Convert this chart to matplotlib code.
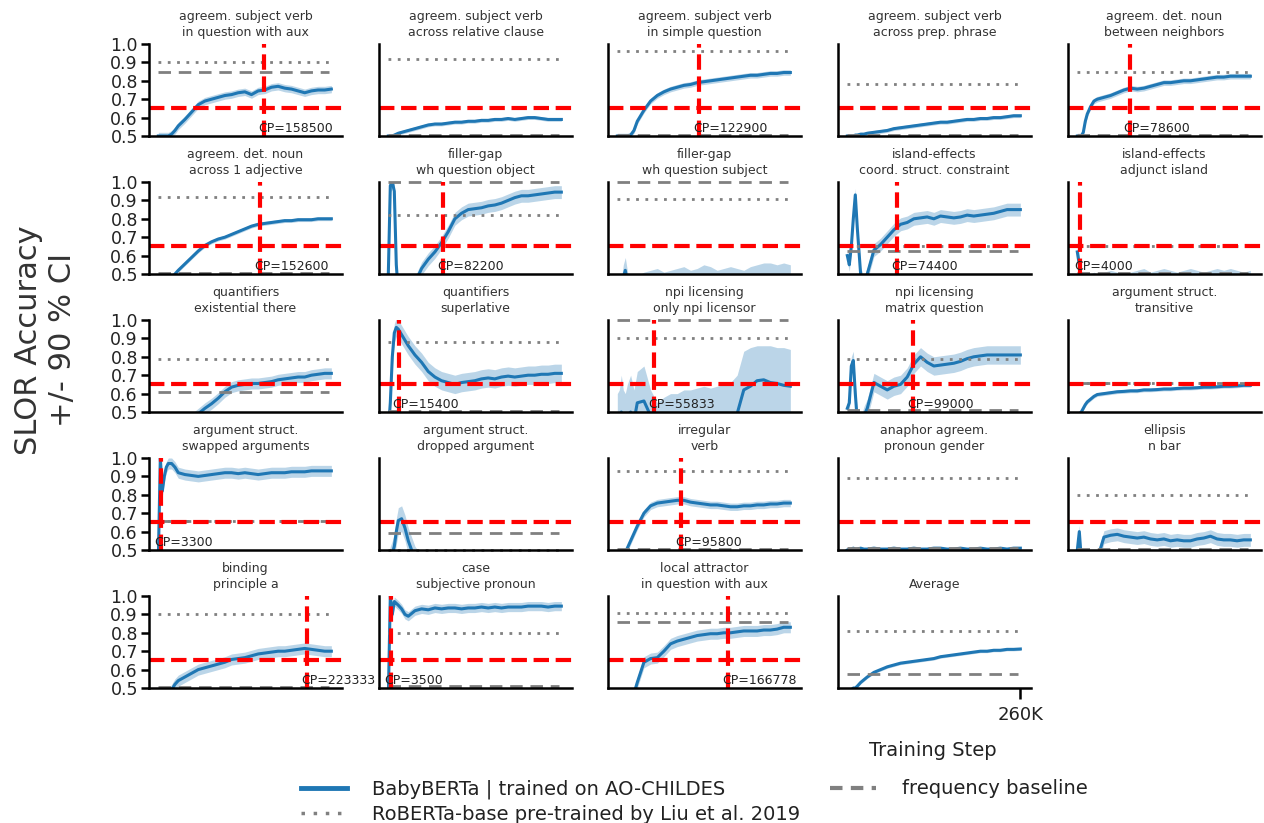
import numpy as np
import matplotlib
matplotlib.use('Agg')
import matplotlib.pyplot as plt
from matplotlib.lines import Line2D

# training steps (in thousands)
steps_k = [0, 3, 6, 9, 12, 15, 20, 25, 30, 40, 50, 60, 70, 80, 90, 100, 110, 120,
           130, 140, 150, 160, 170, 180, 190, 200, 210, 220, 230, 240, 250, 260]

titles = [
    'agreem. subject verb\nin question with aux', 'agreem. subject verb\nacross relative clause',
    'agreem. subject verb\nin simple question', 'agreem. subject verb\nacross prep. phrase',
    'agreem. det. noun\nbetween neighbors', 'agreem. det. noun\nacross 1 adjective',
    'filler-gap\nwh question object', 'filler-gap\nwh question subject',
    'island-effects\ncoord. struct. constraint', 'island-effects\nadjunct island',
    'quantifiers\nexistential there', 'quantifiers\nsuperlative',
    'npi licensing\nonly npi licensor', 'npi licensing\nmatrix question',
    'argument struct.\ntransitive', 'argument struct.\nswapped arguments',
    'argument struct.\ndropped argument', 'irregular\nverb',
    'anaphor agreem.\npronoun gender', 'ellipsis\nn bar',
    'binding\nprinciple a', 'case\nsubjective pronoun',
    'local attractor\nin question with aux', 'Average',
]

#### BabyBERTa accuracy per paradigm
sv_question_aux = [0.50, 0.50, 0.50, 0.50, 0.50, 0.50, 0.51, 0.53, 0.555, 0.59, 0.63, 0.67, 0.69, 0.70, 0.71, 0.72,
                   0.725, 0.735, 0.74, 0.725, 0.745, 0.75, 0.765, 0.77, 0.76, 0.755, 0.745, 0.735, 0.745, 0.75, 0.75, 0.755]
sv_relative_clause = [0.50, 0.50, 0.50, 0.505, 0.51, 0.515, 0.52, 0.525, 0.53, 0.54, 0.55, 0.56, 0.565, 0.565, 0.57, 0.575,
                      0.575, 0.58, 0.58, 0.585, 0.585, 0.59, 0.59, 0.595, 0.59, 0.595, 0.60, 0.60, 0.595, 0.59, 0.59, 0.59]
sv_simple_question = [0.50, 0.50, 0.50, 0.50, 0.50, 0.50, 0.505, 0.53, 0.58, 0.64, 0.69, 0.72, 0.74, 0.755, 0.765, 0.775,
                      0.78, 0.79, 0.795, 0.80, 0.805, 0.81, 0.815, 0.82, 0.825, 0.83, 0.83, 0.835, 0.84, 0.84, 0.845, 0.845]
sv_prep_phrase = [0.50, 0.50, 0.50, 0.50, 0.505, 0.505, 0.51, 0.51, 0.515, 0.52, 0.525, 0.53, 0.54, 0.545, 0.55, 0.555,
                  0.56, 0.565, 0.57, 0.575, 0.575, 0.58, 0.585, 0.59, 0.59, 0.595, 0.595, 0.60, 0.60, 0.605, 0.61, 0.61]
dn_neighbors = [0.50, 0.50, 0.50, 0.52, 0.58, 0.62, 0.66, 0.69, 0.70, 0.71, 0.72, 0.735, 0.75, 0.76, 0.755, 0.76,
                0.77, 0.78, 0.79, 0.79, 0.795, 0.80, 0.80, 0.805, 0.81, 0.815, 0.82, 0.82, 0.825, 0.825, 0.825, 0.825]
dn_adjective = [0.40, 0.40, 0.41, 0.42, 0.43, 0.44, 0.47, 0.50, 0.52, 0.555, 0.59, 0.625, 0.655, 0.675, 0.69, 0.70,
                0.715, 0.73, 0.745, 0.76, 0.77, 0.775, 0.78, 0.785, 0.79, 0.79, 0.795, 0.795, 0.795, 0.80, 0.80, 0.80]
fg_wh_object = [0.50, 0.98, 1.0, 0.95, 0.55, 0.40, 0.35, 0.35, 0.40, 0.45, 0.53, 0.58, 0.62, 0.67, 0.73, 0.80,
                0.83, 0.85, 0.855, 0.86, 0.87, 0.875, 0.885, 0.90, 0.915, 0.925, 0.925, 0.93, 0.935, 0.94, 0.945, 0.945]
fg_wh_subject = [0.30, 0.35, 0.40, 0.48, 0.52, 0.45, 0.35, 0.38, 0.42, 0.44, 0.45, 0.46, 0.44, 0.45, 0.46, 0.47,
                 0.45, 0.46, 0.48, 0.47, 0.45, 0.46, 0.47, 0.46, 0.45, 0.47, 0.48, 0.49, 0.49, 0.48, 0.49, 0.48]
ie_coord = [0.60, 0.55, 0.65, 0.80, 0.93, 0.75, 0.50, 0.45, 0.50, 0.63, 0.66, 0.70, 0.74, 0.77, 0.78, 0.80,
            0.805, 0.81, 0.80, 0.815, 0.81, 0.805, 0.81, 0.82, 0.815, 0.82, 0.825, 0.83, 0.84, 0.85, 0.85, 0.85]
ie_adjunct = [0.62, 0.55, 0.45, 0.40, 0.42, 0.44, 0.45, 0.46, 0.45, 0.46, 0.47, 0.46, 0.45, 0.46, 0.47, 0.48,
              0.46, 0.47, 0.48, 0.47, 0.46, 0.47, 0.48, 0.47, 0.46, 0.47, 0.48, 0.47, 0.48, 0.47, 0.46, 0.47]
q_existential = [0.30, 0.30, 0.31, 0.32, 0.33, 0.34, 0.36, 0.38, 0.40, 0.43, 0.46, 0.49, 0.52, 0.545, 0.575, 0.61,
                 0.635, 0.645, 0.65, 0.655, 0.655, 0.66, 0.665, 0.675, 0.68, 0.685, 0.69, 0.69, 0.70, 0.705, 0.71, 0.71]
q_superlative = [0.40, 0.55, 0.80, 0.93, 0.96, 0.95, 0.92, 0.89, 0.86, 0.81, 0.77, 0.72, 0.69, 0.67, 0.66, 0.65,
                 0.66, 0.665, 0.67, 0.68, 0.685, 0.68, 0.69, 0.695, 0.69, 0.695, 0.70, 0.70, 0.705, 0.705, 0.71, 0.71]
npi_only = [0.40, 0.45, 0.50, 0.45, 0.42, 0.48, 0.50, 0.45, 0.55, 0.56, 0.48, 0.42, 0.44, 0.46, 0.46, 0.47,
            0.48, 0.47, 0.48, 0.47, 0.48, 0.47, 0.48, 0.49, 0.62, 0.64, 0.67, 0.675, 0.66, 0.655, 0.645, 0.64]
npi_only_upper = [0.60, 0.62, 0.70, 0.62, 0.60, 0.65, 0.70, 0.62, 0.72, 0.75, 0.62, 0.55, 0.58, 0.60, 0.60, 0.62,
                  0.62, 0.63, 0.64, 0.63, 0.64, 0.65, 0.66, 0.70, 0.83, 0.85, 0.86, 0.86, 0.86, 0.85, 0.85, 0.84]
npi_matrix = [0.52, 0.55, 0.75, 0.78, 0.60, 0.45, 0.42, 0.48, 0.52, 0.66, 0.64, 0.62, 0.64, 0.65, 0.69, 0.76,
              0.80, 0.77, 0.75, 0.755, 0.76, 0.765, 0.775, 0.79, 0.80, 0.805, 0.81, 0.81, 0.81, 0.81, 0.81, 0.81]
as_transitive = [0.48, 0.49, 0.50, 0.52, 0.54, 0.555, 0.57, 0.585, 0.595, 0.60, 0.605, 0.61, 0.612, 0.615, 0.615, 0.62,
                 0.62, 0.622, 0.625, 0.625, 0.628, 0.63, 0.63, 0.632, 0.635, 0.635, 0.637, 0.64, 0.64, 0.642, 0.645, 0.645]
as_swapped = [0.45, 1.0, 0.82, 0.90, 0.95, 0.97, 0.97, 0.95, 0.92, 0.91, 0.905, 0.90, 0.905, 0.91, 0.915, 0.92,
              0.92, 0.915, 0.92, 0.915, 0.91, 0.915, 0.92, 0.92, 0.92, 0.925, 0.925, 0.925, 0.93, 0.93, 0.93, 0.93]
as_dropped = [0.40, 0.45, 0.48, 0.52, 0.60, 0.66, 0.67, 0.62, 0.55, 0.45, 0.40, 0.38, 0.37, 0.38, 0.37, 0.36,
              0.37, 0.36, 0.35, 0.36, 0.37, 0.36, 0.35, 0.36, 0.35, 0.36, 0.37, 0.36, 0.35, 0.36, 0.35, 0.36]
irregular_verb = [0.45, 0.45, 0.46, 0.47, 0.49, 0.51, 0.55, 0.59, 0.63, 0.70, 0.74, 0.755, 0.76, 0.765, 0.77, 0.77,
                  0.76, 0.755, 0.75, 0.745, 0.745, 0.74, 0.735, 0.735, 0.74, 0.74, 0.745, 0.745, 0.75, 0.75, 0.755, 0.755]
anaphor_gender = [0.50, 0.505, 0.505, 0.51, 0.505, 0.505, 0.51, 0.505, 0.505, 0.51, 0.505, 0.505, 0.51, 0.505, 0.505, 0.51,
                  0.505, 0.505, 0.51, 0.51, 0.505, 0.505, 0.51, 0.505, 0.505, 0.51, 0.505, 0.505, 0.51, 0.505, 0.51, 0.51]
ellipsis_nbar = [0.50, 0.60, 0.45, 0.40, 0.40, 0.40, 0.40, 0.42, 0.45, 0.57, 0.58, 0.585, 0.575, 0.57, 0.565, 0.57,
                 0.56, 0.555, 0.56, 0.55, 0.555, 0.55, 0.55, 0.56, 0.565, 0.575, 0.56, 0.555, 0.555, 0.55, 0.555, 0.555]
binding_a = [0.40, 0.40, 0.41, 0.42, 0.44, 0.46, 0.49, 0.52, 0.54, 0.56, 0.58, 0.60, 0.61, 0.62, 0.63, 0.64,
             0.655, 0.66, 0.665, 0.675, 0.685, 0.69, 0.695, 0.70, 0.70, 0.705, 0.71, 0.715, 0.71, 0.705, 0.70, 0.70]
case_subj = [0.45, 1.0, 0.90, 0.97, 0.96, 0.95, 0.93, 0.90, 0.89, 0.92, 0.93, 0.925, 0.935, 0.93, 0.935, 0.935,
             0.93, 0.935, 0.935, 0.94, 0.935, 0.94, 0.935, 0.94, 0.94, 0.94, 0.945, 0.945, 0.945, 0.94, 0.945, 0.945]
local_attractor = [0.40, 0.40, 0.40, 0.41, 0.42, 0.43, 0.44, 0.47, 0.53, 0.64, 0.66, 0.665, 0.70, 0.74, 0.755, 0.765,
                   0.775, 0.785, 0.79, 0.795, 0.795, 0.80, 0.80, 0.805, 0.81, 0.81, 0.81, 0.815, 0.815, 0.82, 0.83, 0.83]
average = [0.48, 0.48, 0.49, 0.50, 0.50, 0.51, 0.53, 0.545, 0.56, 0.585, 0.60, 0.615, 0.625, 0.635, 0.64, 0.645,
           0.65, 0.655, 0.66, 0.67, 0.675, 0.68, 0.685, 0.69, 0.695, 0.70, 0.70, 0.705, 0.705, 0.71, 0.71, 0.712]

curves = [sv_question_aux, sv_relative_clause, sv_simple_question, sv_prep_phrase, dn_neighbors,
          dn_adjective, fg_wh_object, fg_wh_subject, ie_coord, ie_adjunct,
          q_existential, q_superlative, npi_only, npi_matrix, as_transitive,
          as_swapped, as_dropped, irregular_verb, anaphor_gender, ellipsis_nbar,
          binding_a, case_subj, local_attractor, average]

# half width of 90% CI (npi only licensor uses its own upper band)
ci = [0.02, 0.01, 0.015, 0.01, 0.015, 0.01, 0.035, 0.07, 0.035, 0.05,
      0.03, 0.05, None, 0.05, 0.01, 0.03, 0.07, 0.02, 0.005, 0.035,
      0.03, 0.025, 0.03, 0.008]

# baselines
roberta = [0.90, 0.92, 0.96, 0.78, 0.85, 0.92, 0.82, 0.91, 0.65, 0.65,
           0.79, 0.88, 0.90, 0.79, 0.655, 0.655, 0.50, 0.93, 0.89, 0.80,
           0.90, 0.80, 0.91, 0.81]
freq = [0.85, 0.505, 0.505, 0.505, 0.505, 0.505, 1.0, 1.0, 0.625, 0.505,
        0.61, 0.505, 1.0, 0.51, 0.66, 0.66, 0.59, 0.505, 0.51, 0.505,
        0.505, 0.51, 0.86, 0.575]

# change points
cp = [158500, None, 122900, None, 78600, 152600, 82200, None, 74400, 4000,
      None, 15400, 55833, 99000, None, 3300, None, 95800, None, None,
      223333, 3500, 166778, None]

x = np.array(steps_k) * 1000
blue = '#1f77b4'

fig = plt.figure(figsize=(12.64, 8.23), dpi=100)
W, H = 1264, 823
col_left = [149, 379, 608, 838, 1068]
row_bottom = [136, 274, 412, 550, 688]
ax_w, ax_h = 193, 92

for i, y in enumerate(curves):
    r, c = divmod(i, 5)
    ax = fig.add_axes([col_left[c] / W, 1 - row_bottom[r] / H, ax_w / W, ax_h / H])
    y = np.array(y)
    if ci[i] is None:
        up = np.array(npi_only_upper)
        lo = 2 * y - up
    else:
        up, lo = y + ci[i], y - ci[i]
    ax.fill_between(x, lo, up, color=blue, alpha=0.3, lw=0)
    ax.plot(x, y, color=blue, lw=2.2)

    ax.hlines(roberta[i], 0, 256000, colors='gray', lw=2, linestyles=[(0, (1, 2.35))], clip_on=False)
    ax.hlines(freq[i], 0, 256000, colors='gray', lw=2, linestyles=[(0, (4.5, 2.8))], clip_on=False)

    if titles[i] != 'Average':
        ax.axhline(0.65, color='red', lw=3, ls='--')
    if cp[i] is not None:
        ax.axvline(cp[i], color='red', lw=3, ls='--')
        ax.text(cp[i] - 9000, 0.505, f'CP={cp[i]}', fontsize=9, color='#222', ha='left', va='bottom')

    ax.set_xlim(-14000, 276000)
    ax.set_ylim(0.5, 1.0)
    ax.set_title(titles[i], fontsize=9, color='#333', pad=6, linespacing=1.25)
    for s in ['top', 'right']:
        ax.spines[s].set_visible(False)
    for s in ['left', 'bottom']:
        ax.spines[s].set_linewidth(1.8)
        ax.spines[s].set_color('black')

    if c == 0:
        ax.set_yticks([0.5, 0.6, 0.7, 0.8, 0.9, 1.0])
        ax.set_yticklabels(['0.5', '0.6', '0.7', '0.8', '0.9', '1.0'])
        ax.tick_params(axis='y', length=6, width=1.8, labelsize=12.5, labelcolor='#222', pad=2)
    else:
        ax.set_yticks([])
    if titles[i] == 'Average':
        ax.set_xticks([260000])
        ax.set_xticklabels(['260K'])
        ax.tick_params(axis='x', length=8, width=1.8, labelsize=13, labelcolor='#222', pad=5)
    else:
        ax.set_xticks([])

fig.text(0.036, 0.587, 'SLOR Accuracy\n+/- 90 % CI', rotation=90, ha='center', va='center',
         fontsize=22, color='#333', multialignment='center')
fig.text(933 / W, 1 - 750 / H, 'Training Step', ha='center', va='center', fontsize=14, color='#222')

h_blue = Line2D([], [], color=blue, lw=3.5)
h_dot = Line2D([], [], color='gray', lw=2.5, ls=(0, (1, 2.5)))
h_dash = Line2D([], [], color='gray', lw=3, ls=(0, (3, 2)))
fig.legend([h_blue, h_dot, h_dash],
           ['BabyBERTa | trained on AO-CHILDES', 'RoBERTa-base pre-trained by Liu et al. 2019', 'frequency baseline'],
           ncol=2, frameon=False, loc='upper left', bbox_to_anchor=(283 / W, 1 - 762 / H),
           fontsize=14, handlelength=2.4, handletextpad=1.3, columnspacing=1.5, labelspacing=0.3,
           labelcolor='#222')

fig.savefig('out.png', dpi=100)
